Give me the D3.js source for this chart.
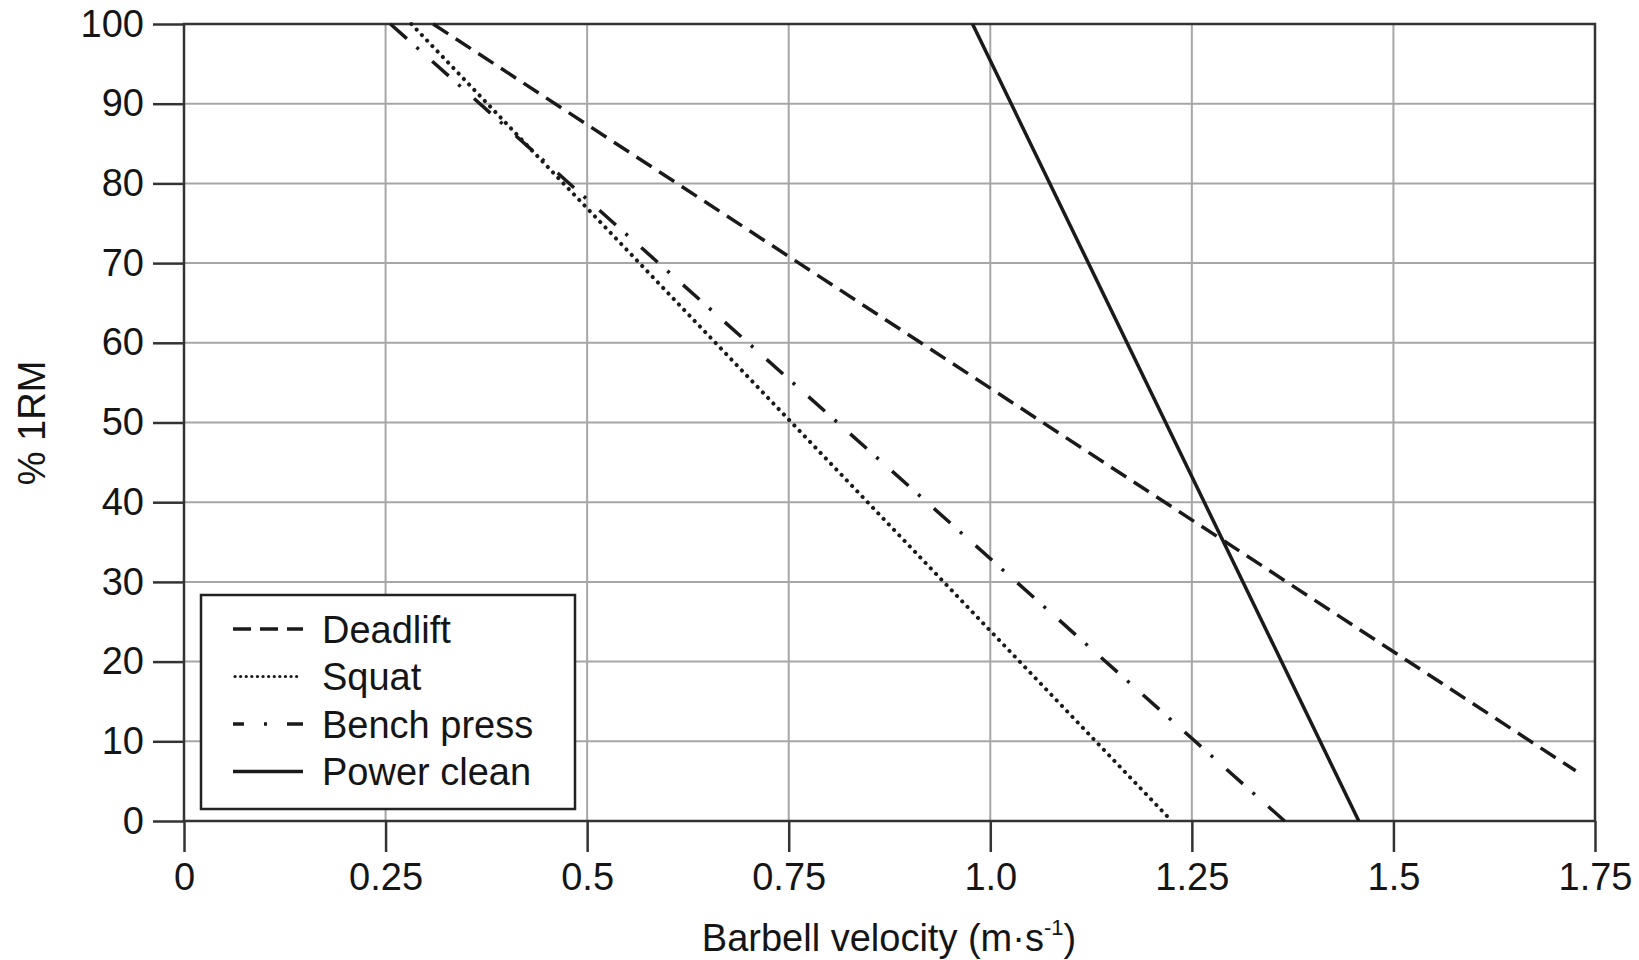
<!DOCTYPE html>
<html>
<head>
    <meta charset="utf-8">
    <script src="https://d3js.org/d3.v7.min.js"></script>
    <title>% 1RM vs barbell velocity</title>
    <style>
        body { margin: 0; background: #fff; }
        text { font-family: "Liberation Sans", Arial, Helvetica, sans-serif; fill: #151515; }
    </style>
</head>
<body>
    <div id="chart"></div>
    <script>
        // values
        const xTicks = [0, 0.25, 0.5, 0.75, 1.0, 1.25, 1.5, 1.75];
        const xTickLabels = ["0", "0.25", "0.5", "0.75", "1.0", "1.25", "1.5", "1.75"];
        const yTicks = [0, 10, 20, 30, 40, 50, 60, 70, 80, 90, 100];

        const exercises = ["Deadlift", "Squat", "Bench press", "Power clean"];
        // start / end of each line: velocity (m/s) and % 1RM
        const deadliftV = [0.309, 1.726], deadliftP = [100, 6.3];
        const squatV = [0.282, 1.225], squatP = [100, 0];
        const benchV = [0.256, 1.365], benchP = [100, 0];
        const cleanV = [0.978, 1.457], cleanP = [100, 0];

        const dashes = ["18,9", "0.1,7.5", "22,13,3,18", null];

        const series = [
            { name: exercises[0], v: deadliftV, p: deadliftP, dash: dashes[0] },
            { name: exercises[1], v: squatV, p: squatP, dash: dashes[1] },
            { name: exercises[2], v: benchV, p: benchP, dash: dashes[2] },
            { name: exercises[3], v: cleanV, p: cleanP, dash: dashes[3] }
        ];

        const width = 1639, height = 960;
        const margin = { top: 24, right: 44, bottom: 139, left: 184 };
        const fontSize = 38;

        const svg = d3.select("#chart").append("svg")
            .attr("width", width)
            .attr("height", height);

        const x = d3.scaleLinear().domain([0, 1.75]).range([margin.left, width - margin.right]);
        const y = d3.scaleLinear().domain([0, 100]).range([height - margin.bottom, margin.top]);

        // grid
        svg.append("g")
            .selectAll("line")
            .data(xTicks.filter(d => d > 0 && d < 1.75))
            .join("line")
            .attr("x1", d => x(d)).attr("x2", d => x(d))
            .attr("y1", y(0)).attr("y2", y(100))
            .attr("stroke", "#a6a6a6").attr("stroke-width", 2);

        svg.append("g")
            .selectAll("line")
            .data(yTicks.filter(d => d > 0 && d < 100))
            .join("line")
            .attr("x1", x(0)).attr("x2", x(1.75))
            .attr("y1", d => y(d)).attr("y2", d => y(d))
            .attr("stroke", "#a6a6a6").attr("stroke-width", 2);

        // frame
        svg.append("rect")
            .attr("x", x(0)).attr("y", y(100))
            .attr("width", x(1.75) - x(0)).attr("height", y(0) - y(100))
            .attr("fill", "none")
            .attr("stroke", "#333").attr("stroke-width", 2.5);

        // axes
        const xAxis = svg.append("g")
            .attr("transform", `translate(0,${y(0)})`)
            .call(d3.axisBottom(x).tickValues(xTicks).tickSize(31).tickPadding(11)
                .tickFormat((d, i) => xTickLabels[i]));

        const yAxis = svg.append("g")
            .attr("transform", `translate(${x(0)},0)`)
            .call(d3.axisLeft(y).tickValues(yTicks).tickSize(31).tickPadding(9));

        [xAxis, yAxis].forEach(a => {
            a.select(".domain").remove();
            a.selectAll(".tick line").attr("stroke", "#333").attr("stroke-width", 2.5);
            a.selectAll(".tick text")
                .style("font-family", '"Liberation Sans", Arial, sans-serif')
                .attr("font-size", fontSize)
                .attr("fill", "#151515");
        });

        // lines
        const line = d3.line().x(d => x(d[0])).y(d => y(d[1]));

        svg.append("g")
            .selectAll("path")
            .data(series)
            .join("path")
            .attr("d", s => line(s.v.map((v, i) => [v, s.p[i]])))
            .attr("fill", "none")
            .attr("stroke", "#1a1a1a")
            .attr("stroke-width", s => s.dash === dashes[1] ? 4 : 3.5)
            .attr("stroke-dasharray", s => s.dash)
            .attr("stroke-linecap", s => s.dash === dashes[1] ? "round" : "butt");

        // axis titles
        const xt = svg.append("text")
            .attr("x", 889).attr("y", 951)
            .attr("text-anchor", "middle")
            .attr("font-size", fontSize);
        xt.append("tspan").text("Barbell velocity (m·s");
        xt.append("tspan").attr("font-size", 22).attr("dy", -16).text("-1");
        xt.append("tspan").attr("dy", 16).text(")");

        svg.append("text")
            .attr("transform", "translate(45,423) rotate(-90)")
            .attr("text-anchor", "middle")
            .attr("font-size", fontSize)
            .text("% 1RM");

        // legend
        const legend = svg.append("g");
        legend.append("rect")
            .attr("x", 201).attr("y", 595)
            .attr("width", 374).attr("height", 214)
            .attr("fill", "#fff")
            .attr("stroke", "#222").attr("stroke-width", 2.5);

        const rows = legend.selectAll("g")
            .data(series)
            .join("g")
            .attr("transform", (d, i) => `translate(0,${629 + i * 47.5})`);

        rows.append("line")
            .attr("x1", d => d.dash === dashes[1] ? 235 : 233)
            .attr("x2", d => d.dash === dashes[1] ? 301 : 303)
            .attr("y1", 0).attr("y2", 0)
            .attr("stroke", "#1a1a1a")
            .attr("stroke-width", d => d.dash === dashes[1] ? 3.2 : 3.5)
            .attr("stroke-dasharray", d => d.dash === dashes[2] ? "11,20,3,20,40"
                : d.dash === dashes[1] ? "0.1,5.5" : d.dash)
            .attr("stroke-linecap", d => d.dash === dashes[1] ? "round" : "butt");

        rows.append("text")
            .attr("x", 322).attr("y", 0)
            .attr("dy", "0.36em")
            .attr("font-size", fontSize)
            .text(d => d.name);
    </script>
</body>
</html>
